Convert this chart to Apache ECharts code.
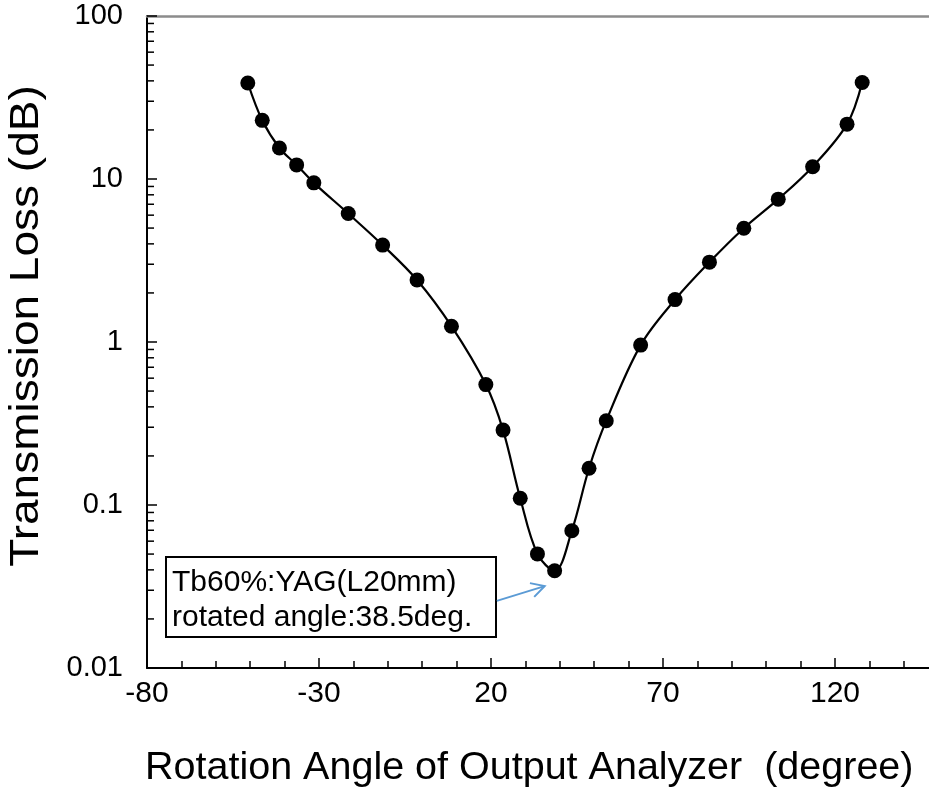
<!DOCTYPE html>
<html>
<head>
<meta charset="utf-8">
<script src="https://cdn.jsdelivr.net/npm/echarts@6/dist/echarts.min.js"></script>
<style>html,body{margin:0;padding:0;background:#fff}#c{width:929px;height:791px}</style>
</head>
<body>
<div id="c"></div>
<script>
// ---- data ----
const angles = [-50.7, -46.5, -41.5, -36.5, -31.5, -21.5, -11.5, -1.5, 8.5, 18.5, 23.5, 28.5, 33.5, 38.5, 43.5, 48.5, 53.5, 63.5, 73.5, 83.5, 93.5, 103.5, 113.5, 123.5, 127.9];
const loss = [38.8, 22.9, 15.5, 12.2, 9.47, 6.14, 3.93, 2.40, 1.25, 0.548, 0.288, 0.110, 0.0501, 0.0395, 0.0695, 0.168, 0.329, 0.957, 1.82, 3.09, 4.99, 7.52, 11.9, 21.7, 39.1];
const xTickLabels = ['-80', '-30', '20', '70', '120'];
const yTickLabels = ['0.01', '0.1', '1', '10', '100'];
const yDecades = [0.01, 0.1, 1, 10];
const yMinorMult = [2, 3, 4, 5, 6, 7, 8, 9];
const noteLines = ['Tb60%:YAG(L20mm)', 'rotated angle:38.5deg.'];
const arrowFrom = [21.7, 0.0258];
const arrowTo = [35.6, 0.0318];
const xTitle = 'Rotation Angle of Output Analyzer  (degree)';
const yTitle = 'Transmission Loss (dB)';

const FONT = '"Liberation Sans", Arial, sans-serif';
const X_MIN = -80, X_MAX = 170;

const points = angles.map((a, i) => [a, loss[i]]);
const yMinor = [];
yDecades.forEach(d => yMinorMult.forEach(m => yMinor.push([X_MIN, +(d * m).toPrecision(3)])));

const chart = echarts.init(document.getElementById('c'), null, {renderer: 'canvas'});
chart.setOption({
  animation: false,
  backgroundColor: '#fff',
  textStyle: {fontFamily: FONT},
  grid: {left: 147, top: 16, width: 860, height: 652, containLabel: false, outerBoundsMode: 'none'},
  xAxis: [{
    type: 'value', min: X_MIN, max: X_MAX, interval: 50,
    axisLine: {onZero: false, lineStyle: {color: '#000', width: 2}},
    axisTick: {inside: true, length: 10, lineStyle: {color: '#000', width: 1.5}},
    minorTick: {show: true, splitNumber: 5, length: 7, lineStyle: {color: '#000', width: 1.5}},
    axisLabel: {
      color: '#000', fontSize: 30, fontFamily: FONT, margin: 11,
      showMaxLabel: false,
      formatter: v => { const i = Math.round((v - X_MIN) / 50); return (i >= 0 && i < xTickLabels.length) ? xTickLabels[i] : ''; }
    },
    splitLine: {show: false}
  }, {
    type: 'value', min: X_MIN, max: X_MAX, position: 'top',
    axisLine: {show: true, onZero: false, lineStyle: {color: '#8c8c8c', width: 2.5}},
    axisTick: {show: false}, axisLabel: {show: false}, splitLine: {show: false}
  }],
  yAxis: {
    type: 'log', logBase: 10, min: 0.01, max: 100,
    axisLine: {show: true, onZero: false, lineStyle: {color: '#000', width: 2}},
    axisTick: {inside: true, length: 10, lineStyle: {color: '#000', width: 1.5}},
    axisLabel: {
      color: '#000', fontSize: 29, fontFamily: FONT, margin: 24,
      formatter: v => { const i = Math.round(Math.log10(v) + 2); return yTickLabels[i] || ''; }
    },
    splitLine: {show: false}
  },
  series: [{
    type: 'custom',
    xAxisIndex: 0,
    silent: true,
    clip: false,
    data: yMinor,
    renderItem: (params, api) => {
      const p = api.coord([api.value(0), api.value(1)]);
      return {type: 'line', shape: {x1: p[0], y1: p[1], x2: p[0] + 7, y2: p[1]},
              style: {stroke: '#000', lineWidth: 1.5}};
    },
    z: 5
  }, {
    type: 'line',
    xAxisIndex: 0,
    data: points,
    smooth: 0.35,
    symbol: 'circle',
    symbolSize: 15,
    lineStyle: {color: '#000', width: 2.2},
    itemStyle: {color: '#000'},
    z: 3
  }]
});

// annotation (box, text, arrow); arrow ends converted from data space
const pFrom = chart.convertToPixel({xAxisIndex: 0, yAxisIndex: 0}, arrowFrom);
const pTo = chart.convertToPixel({xAxisIndex: 0, yAxisIndex: 0}, arrowTo);
const ang = Math.atan2(pTo[1] - pFrom[1], pTo[0] - pFrom[0]);
const headLen = 15, headAng = 0.5;
const h1 = [pTo[0] - headLen * Math.cos(ang - headAng), pTo[1] - headLen * Math.sin(ang - headAng)];
const h2 = [pTo[0] - headLen * Math.cos(ang + headAng), pTo[1] - headLen * Math.sin(ang + headAng)];

chart.setOption({
  graphic: [
    {type: 'rect', shape: {x: 166, y: 557, width: 330, height: 80},
     style: {fill: '#fff', stroke: '#000', lineWidth: 2}, z: 10},
    {type: 'text', x: 172, y: 583,
     style: {text: noteLines[0], font: '30px ' + FONT, fill: '#000', textVerticalAlign: 'middle'}, z: 11},
    {type: 'text', x: 172, y: 618,
     style: {text: noteLines[1], font: '30px ' + FONT, fill: '#000', textVerticalAlign: 'middle'}, z: 11},
    {type: 'polyline', shape: {points: [pFrom, pTo]}, style: {stroke: '#5B9BD5', lineWidth: 2}, z: 11},
    {type: 'polyline', shape: {points: [h1, pTo, h2]}, style: {stroke: '#5B9BD5', lineWidth: 2, fill: null}, z: 11},
    {type: 'text', x: 145, y: 768,
     style: {text: xTitle, font: '39.5px ' + FONT, fill: '#000', textVerticalAlign: 'middle'}, z: 11},
    {type: 'text', x: 27, y: 326, rotation: Math.PI / 2, scaleX: 1.15,
     style: {text: yTitle, font: '40px ' + FONT, fill: '#000', textAlign: 'center', textVerticalAlign: 'middle'}, z: 11}
  ]
});
</script>
</body>
</html>
